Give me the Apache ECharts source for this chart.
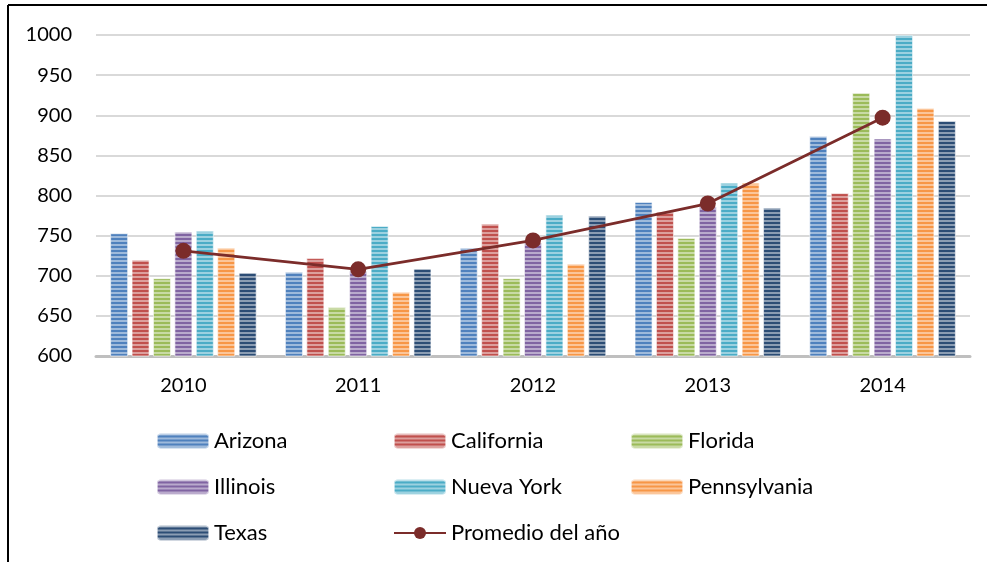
<!DOCTYPE html>
<html>
<head>
<meta charset="utf-8">
<script src="https://cdn.jsdelivr.net/npm/echarts@6/dist/echarts.min.js"></script>
<style>
  html, body { margin: 0; padding: 0; background: #fff; }
  #chart { width: 987px; height: 562px; }
</style>
</head>
<body>
<div id="chart"></div>
<script>
var dom = document.getElementById('chart');
var myChart = echarts.init(dom);

var years = ['2010', '2011', '2012', '2013', '2014'];
var states = ['Arizona', 'California', 'Florida', 'Illinois', 'Nueva York', 'Pennsylvania', 'Texas'];
var colors = ['#4f81bd', '#c0504d', '#9bbb59', '#8064a2', '#4bacc6', '#f79646', '#2c4d75'];

var arizona = [753, 705, 735, 792, 874];
var california = [720, 722, 765, 780, 803];
var florida = [697, 661, 697, 747, 928];
var illinois = [755, 706, 741, 786, 871];
var nuevaYork = [756, 762, 776, 816, 1000];
var pennsylvania = [735, 680, 715, 816, 909];
var texas = [704, 709, 775, 785, 893];
var promedio = [731, 708, 744, 790, 897];

var values = [arizona, california, florida, illinois, nuevaYork, pennsylvania, texas];
var lineName = 'Promedio del año';
var font = 'Lato';

var stripes = {
    symbol: 'rect',
    symbolSize: 1,
    dashArrayX: [1, 0],
    dashArrayY: [2, 2],
    rotation: 0,
    color: 'rgba(255,255,255,0.45)'
};

var series = states.map(function (name, i) {
    return {
        name: name,
        type: 'bar',
        barWidth: 18,
        barGap: '19%',
        data: values[i],
        itemStyle: {
            color: colors[i],
            borderColor: 'rgba(255,255,255,0.35)',
            borderWidth: 1,
            decal: stripes
        }
    };
});

series.push({
    name: lineName,
    type: 'line',
    data: promedio,
    symbol: 'circle',
    symbolSize: 16,
    z: 5,
    lineStyle: { color: '#7b2c2a', width: 2.8 },
    itemStyle: { color: '#7b2c2a' }
});

// one legend per column, rows ~46px apart
function legendCol(names, left) {
    return {
        data: names,
        orient: 'vertical',
        left: left,
        top: 430,
        padding: 0,
        itemGap: 24,
        itemWidth: 52,
        itemHeight: 15,
        textStyle: { fontFamily: font, fontSize: 22, color: '#000' }
    };
}

option = {
    animation: false,
    backgroundColor: '#fff',
    grid: { left: 96, right: 17, top: 35, bottom: 206 },
    legend: [
        legendCol(['Arizona', 'Illinois', 'Texas'], 156),
        legendCol(['California', 'Nueva York', lineName], 393),
        legendCol(['Florida', 'Pennsylvania'], 630)
    ],
    xAxis: {
        type: 'category',
        data: years,
        axisTick: { show: false },
        axisLine: { lineStyle: { color: '#bfbfbf', width: 3 } },
        axisLabel: { fontFamily: font, fontSize: 20, color: '#000', margin: 20 }
    },
    yAxis: {
        type: 'value',
        min: 600,
        max: 1000,
        interval: 50,
        axisLine: { show: false },
        axisTick: { show: false },
        axisLabel: {
            fontFamily: font, fontSize: 20, color: '#000', margin: 24,
            formatter: function (v) { return String(v); }
        },
        splitLine: { lineStyle: { color: '#d9d9d9', width: 2 } }
    },
    graphic: [
        { type: 'line', shape: { x1: 8, y1: 5, x2: 987, y2: 5 }, style: { stroke: '#000', lineWidth: 2 } },
        { type: 'line', shape: { x1: 8, y1: 5, x2: 8, y2: 562 }, style: { stroke: '#000', lineWidth: 2 } }
    ],
    series: series
};

if (option && typeof option === 'object') {
    myChart.setOption(option, true);
}
</script>
</body>
</html>
